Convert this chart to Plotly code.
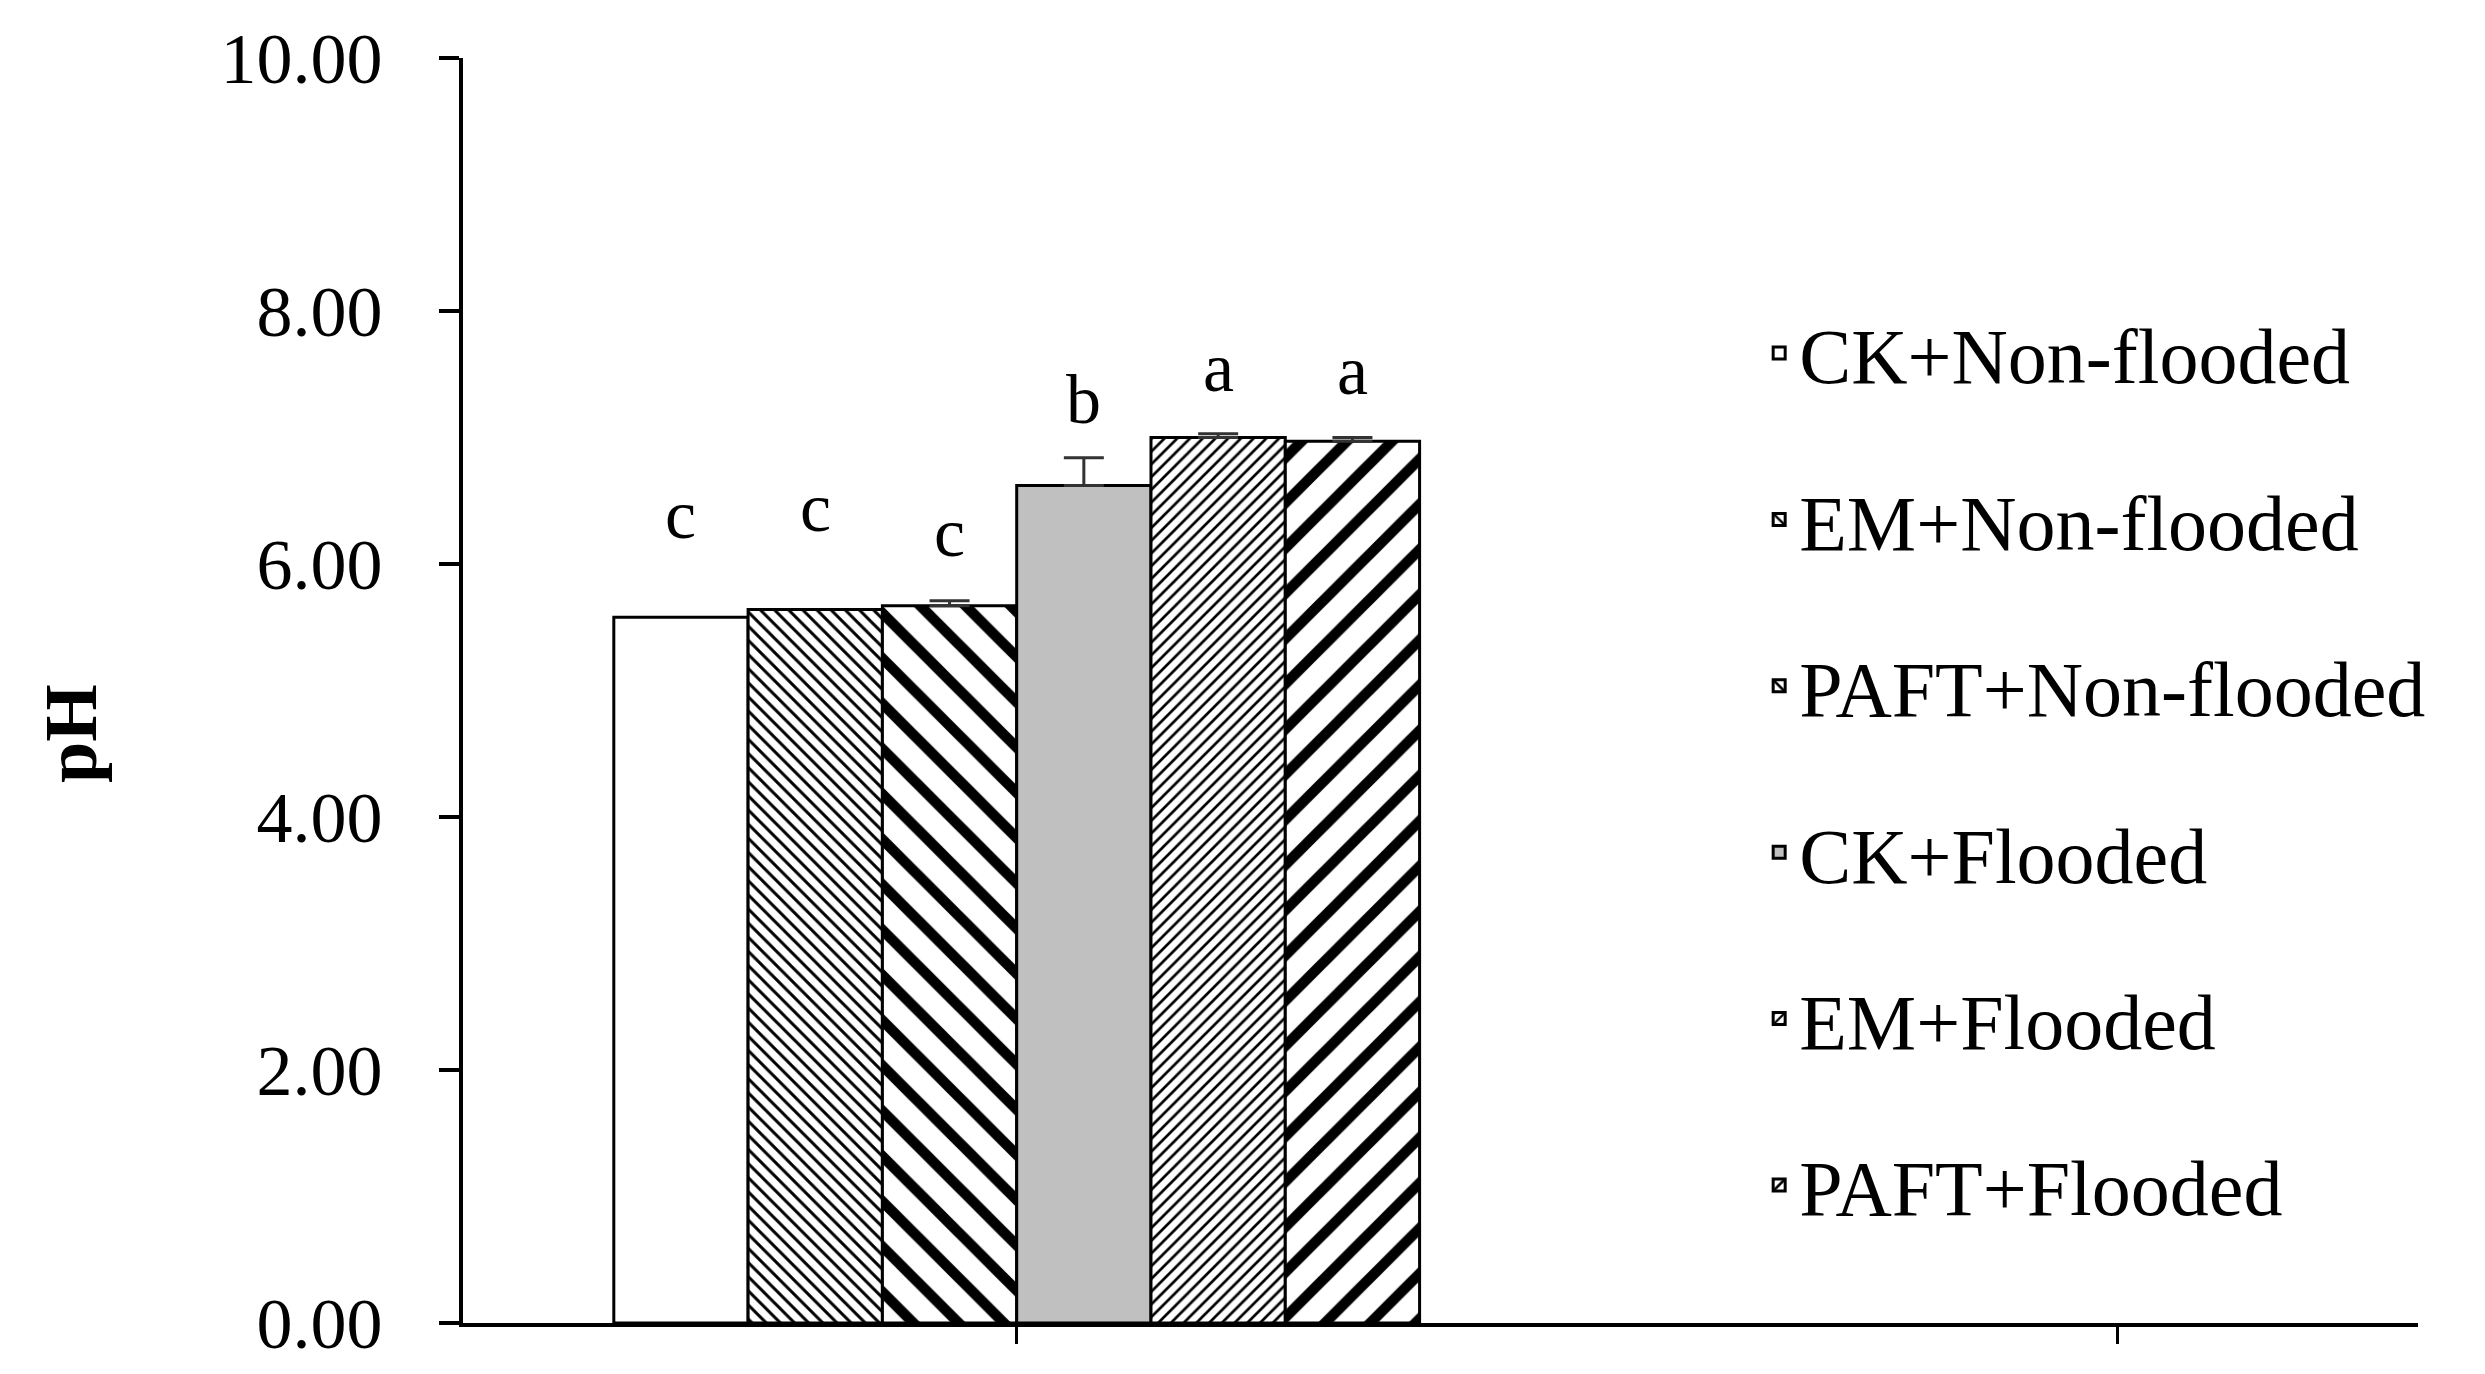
import plotly.graph_objects as go

# data
treatments = ["CK+Non-flooded", "EM+Non-flooded", "PAFT+Non-flooded",
              "CK+Flooded", "EM+Flooded", "PAFT+Flooded"]
ph_mean = [5.58, 5.64, 5.67, 6.62, 7.00, 6.97]
ph_err = [0.0, 0.0, 0.04, 0.22, 0.03, 0.03]
sig_letters = ["c", "c", "c", "b", "a", "a"]
letter_y = [6.39, 6.45, 6.25, 7.30, 7.55, 7.53]

# bar looks (Excel style hatching)
fills = ["white", "white", "white", "#C0C0C0", "white", "white"]
shapes = ["", "\\", "\\", "", "/", "/"]
pat_size = [10, 10, 32, 10, 9, 32]
pat_solid = [0.3, 0.3, 0.33, 0.3, 0.3, 0.33]

FONT = "Liberation Serif"
W, H = 2485, 1374
ML, MR, MT, MB = 455, 75, 50, 59
group_w = 0.732
bar_w = group_w / len(treatments)

fig = go.Figure()

for i, name in enumerate(treatments):
    fig.add_trace(go.Bar(
        x=[0],
        y=[ph_mean[i]],
        name=name,
        width=bar_w,
        offset=-group_w / 2 + i * bar_w,
        legendgroup=name,
        marker=dict(
            color=fills[i],
            line=dict(color="black", width=3),
            pattern=dict(shape=shapes[i], size=pat_size[i], solidity=pat_solid[i],
                         fgcolor="black", bgcolor=fills[i], fillmode="replace"),
        ),
        error_y=dict(type="data", symmetric=False, array=[ph_err[i]], arrayminus=[0],
                     color="#333333", thickness=3, width=20, visible=ph_err[i] > 0),
    ))
    fig.add_annotation(
        x=-group_w / 2 + (i + 0.5) * bar_w, y=letter_y[i],
        xref="x", yref="y", text=sig_letters[i], showarrow=False,
        font=dict(family=FONT, size=70, color="black"),
    )

# y axis title sits a bit below the middle in the original (pixel spot -> paper)
fig.add_annotation(
    x=(63 - ML) / (W - ML - MR), y=(H - MB - 726) / (H - MT - MB),
    xref="paper", yref="paper", xanchor="center", yanchor="middle",
    text="<b>pH</b>", showarrow=False, textangle=-90,
    font=dict(family=FONT, size=74, color="black"),
)

fig.update_layout(
    width=W, height=H,
    margin=dict(l=ML, r=MR, t=MT, b=MB),
    paper_bgcolor="white", plot_bgcolor="white",
    barmode="overlay",
    showlegend=True,
    font=dict(family=FONT, color="black"),
    legend=dict(
        x=0.663, y=0.812, xanchor="left", yanchor="top",
        font=dict(family=FONT, size=78, color="black"),
        tracegroupgap=62, bgcolor="rgba(0,0,0,0)",
    ),
    xaxis=dict(
        range=[-0.503, 1.273], showgrid=False, zeroline=False,
        showline=True, linecolor="black", linewidth=4,
        tickvals=[0, 1], ticks="outside", ticklen=17, tickwidth=3, tickcolor="black",
        showticklabels=False,
    ),
    yaxis=dict(
        range=[0, 10], showgrid=False, zeroline=False,
        showline=True, linecolor="black", linewidth=4,
        tickvals=[0, 2, 4, 6, 8, 10], tickformat=".2f",
        ticks="outside", ticklen=20, tickwidth=4, tickcolor="black",
        ticklabelstandoff=42,
        tickfont=dict(family=FONT, size=72, color="black"),
    ),
)

fig.write_html("out.html")
